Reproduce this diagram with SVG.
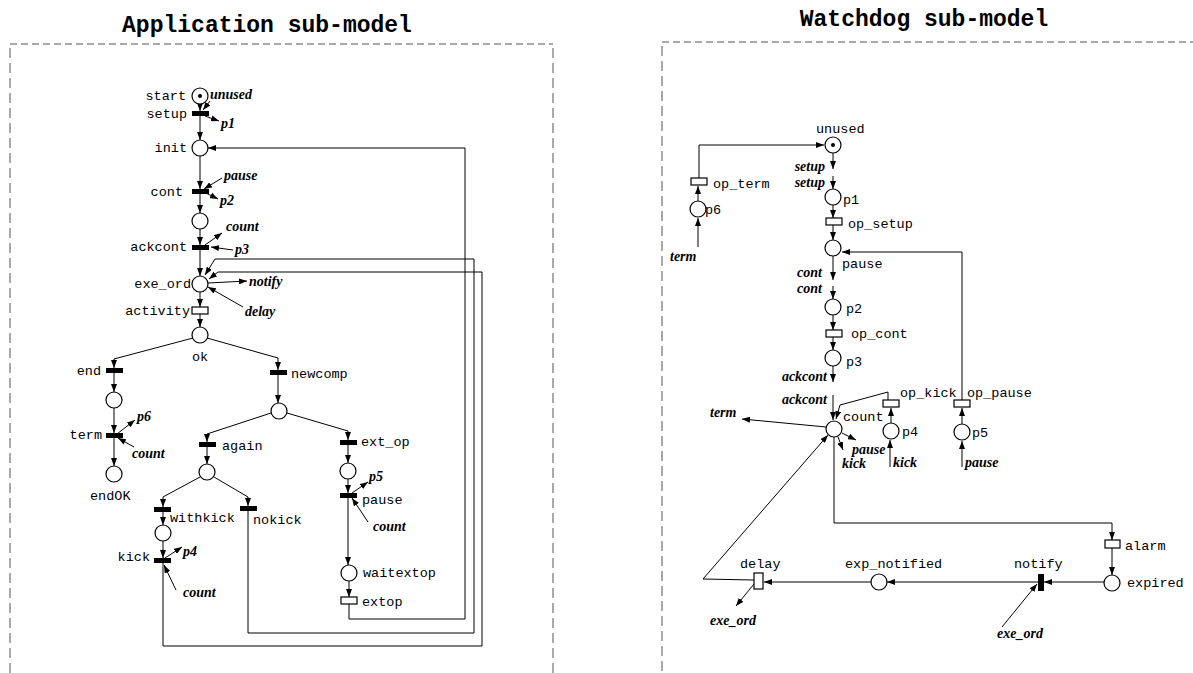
<svg xmlns="http://www.w3.org/2000/svg" width="1193" height="673" viewBox="0 0 1193 673">
<style>
.pl{fill:#fff;stroke:#000;stroke-width:1.2}
.tk{fill:#000}
.it{fill:#000}
.tt{fill:#fff;stroke:#000;stroke-width:1.2}
.e{fill:none;stroke:#000;stroke-width:1}
.ea{fill:none;stroke:#000;stroke-width:1;marker-end:url(#ah)}
.lb{font-family:"Liberation Mono",monospace;font-size:13.5px;fill:#000}
.ar{font-family:"Liberation Serif",serif;font-size:14px;font-weight:bold;font-style:italic;fill:#000}
.ti{font-family:"Liberation Mono",monospace;font-size:23px;font-weight:bold;fill:#000}
.dh{fill:none;stroke:#555;stroke-width:1;stroke-dasharray:7 4}
.dv{fill:none;stroke:#555;stroke-width:1;stroke-dasharray:10 5}
</style>
<defs>
<marker id="ah" markerWidth="8" markerHeight="6" refX="8" refY="3" orient="auto" markerUnits="userSpaceOnUse"><path d="M0,0 L8,3 L0,6 z" fill="#000"/></marker>
</defs>
<g id="frames">
<text class="ti" x="267" y="32" text-anchor="middle">Application sub-model</text>
<text class="ti" x="924" y="26" text-anchor="middle">Watchdog sub-model</text>
<path class="dh" d="M10,44 H553"/>
<path class="dv" d="M10,48 V673 M553,48 V673"/>
<path class="dh" d="M662,42 H1193"/>
<path class="dv" d="M662,46 V673"/>
</g>
<g id="connectors">
<!-- left net -->
<path class="ea" d="M200,104 V111"/>
<path class="ea" d="M210,101 L203,110"/>
<path class="ea" d="M205,116 L219,121"/>
<path class="ea" d="M200,116 V140"/>
<path class="ea" d="M349,604 V619 H465 V148 H208"/>
<path class="ea" d="M200,156 V189"/>
<path class="ea" d="M222,178 L204,189"/>
<path class="ea" d="M206,193 L218,199"/>
<path class="ea" d="M200,194 V213"/>
<path class="ea" d="M200,229 V245"/>
<path class="ea" d="M205,245 L222,233"/>
<path class="ea" d="M233,250 L211,247"/>
<path class="ea" d="M200,250 V276"/>
<path class="ea" d="M208,283 L247,281"/>
<path class="ea" d="M243,307 L208,287"/>
<path class="ea" d="M248,511 V633 H474 V259 H215 L205,275"/>
<path class="ea" d="M163,563 V646 H482 V272 H218 L209,279"/>
<path class="ea" d="M200,292 V307"/>
<path class="ea" d="M200,314 V327"/>
<path class="ea" d="M193,338 L114,359 V368"/>
<path class="ea" d="M114,373 V392"/>
<path class="ea" d="M114,408 V433"/>
<path class="ea" d="M117,434 L135,420"/>
<path class="ea" d="M134,447 L118,438"/>
<path class="ea" d="M114,438 V466"/>
<path class="ea" d="M207,338 L278,358 V370"/>
<path class="ea" d="M278,375 V403"/>
<path class="ea" d="M271,413 L207,434 V442"/>
<path class="ea" d="M287,413 L348,431 V440"/>
<path class="ea" d="M348,445 V463"/>
<path class="ea" d="M352,493 L368,482"/>
<path class="ea" d="M348,479 V493"/>
<path class="ea" d="M368,522 L352,498"/>
<path class="ea" d="M348,498 V565"/>
<path class="ea" d="M349,581 V597"/>
<path class="ea" d="M207,447 V464"/>
<path class="ea" d="M200,477 L163,497 V507"/>
<path class="ea" d="M214,477 L248,497 V506"/>
<path class="ea" d="M163,512 V525"/>
<path class="ea" d="M163,541 V558"/>
<path class="ea" d="M165,558 L182,547"/>
<path class="ea" d="M176,590 L164,565"/>
<!-- right net -->
<path class="ea" d="M699,178 V145 H824"/>
<path class="ea" d="M698,201 V186"/>
<path class="ea" d="M698,247 V218"/>
<path class="ea" d="M833,153 V169"/>
<path class="ea" d="M833,176 V189"/>
<path class="ea" d="M833,205 V218"/>
<path class="ea" d="M833,225 V240"/>
<path class="ea" d="M962,400 V252 H842"/>
<path class="ea" d="M833,256 V280"/>
<path class="ea" d="M833,286 V299"/>
<path class="ea" d="M833,315 V330"/>
<path class="ea" d="M833,337 V350"/>
<path class="ea" d="M833,366 V382"/>
<path class="ea" d="M833,395 V420"/>
<path class="ea" d="M888,400 V392 L840,405 L836,419"/>
<path class="ea" d="M891,423 V408"/>
<path class="ea" d="M890,467 V440"/>
<path class="ea" d="M962,424 V408"/>
<path class="ea" d="M962,467 V441"/>
<path class="ea" d="M826,427 L742,419"/>
<path class="ea" d="M842,433 L856,440"/>
<path class="ea" d="M838,437 L843,450"/>
<path class="ea" d="M834,437 V523 H1112 V540"/>
<path class="ea" d="M1112,548 V575"/>
<path class="ea" d="M1104,582 H1044"/>
<path class="ea" d="M1002,627 L1037,584"/>
<path class="ea" d="M1038,582 H887"/>
<path class="ea" d="M871,582 H764"/>
<path class="ea" d="M754,580 L703,579 L828,435"/>
<path class="ea" d="M754,584 L736,606"/>
</g>
<g id="start"><circle class="pl" cx="200" cy="96" r="8"/><circle class="tk" cx="200" cy="96" r="2"/><text class="lb" x="186" y="100" text-anchor="end">start</text><text class="ar" x="210" y="99">unused</text></g>
<g id="setup"><rect class="it" x="192" y="111" width="17" height="5"/><text class="lb" x="187" y="118" text-anchor="end">setup</text><text class="ar" x="221" y="128">p1</text></g>
<g id="init"><circle class="pl" cx="200" cy="148" r="8"/><text class="lb" x="187" y="152" text-anchor="end">init</text></g>
<g id="cont"><rect class="it" x="192" y="189" width="17" height="5"/><text class="lb" x="183" y="196" text-anchor="end">cont</text><text class="ar" x="224" y="180">pause</text><text class="ar" x="220" y="205">p2</text></g>
<g id="wcont"><circle class="pl" cx="200" cy="221" r="8"/></g>
<g id="ackcont"><rect class="it" x="192" y="245" width="17" height="5"/><text class="lb" x="187" y="251" text-anchor="end">ackcont</text><text class="ar" x="226" y="231">count</text><text class="ar" x="235" y="254">p3</text></g>
<g id="exe_ord"><circle class="pl" cx="200" cy="284" r="8"/><text class="lb" x="191" y="288" text-anchor="end">exe_ord</text><text class="ar" x="249" y="286">notify</text><text class="ar" x="245" y="316">delay</text></g>
<g id="activity"><rect class="tt" x="192" y="307" width="16" height="7"/><text class="lb" x="190" y="315" text-anchor="end">activity</text></g>
<g id="ok"><circle class="pl" cx="200" cy="335" r="8"/><text class="lb" x="200" y="361" text-anchor="middle">ok</text></g>
<g id="end"><rect class="it" x="106" y="368" width="17" height="5"/><text class="lb" x="101" y="375" text-anchor="end">end</text></g>
<g id="wend"><circle class="pl" cx="114" cy="400" r="8"/></g>
<g id="term"><rect class="it" x="106" y="433" width="17" height="5"/><text class="lb" x="102" y="439" text-anchor="end">term</text><text class="ar" x="137" y="421">p6</text><text class="ar" x="132" y="458">count</text></g>
<g id="endOK"><circle class="pl" cx="114" cy="474" r="8"/><text class="lb" x="90" y="500">endOK</text></g>
<g id="newcomp"><rect class="it" x="270" y="370" width="17" height="5"/><text class="lb" x="291" y="378">newcomp</text></g>
<g id="wnew"><circle class="pl" cx="279" cy="411" r="8"/></g>
<g id="again"><rect class="it" x="199" y="442" width="17" height="5"/><text class="lb" x="222" y="450">again</text></g>
<g id="ext_op"><rect class="it" x="340" y="440" width="17" height="5"/><text class="lb" x="361" y="446">ext_op</text></g>
<g id="wext"><circle class="pl" cx="348" cy="471" r="8"/></g>
<g id="pause"><rect class="it" x="340" y="493" width="17" height="5"/><text class="lb" x="362" y="504">pause</text><text class="ar" x="369" y="481">p5</text><text class="ar" x="373" y="531">count</text></g>
<g id="waitextop"><circle class="pl" cx="349" cy="573" r="8"/><text class="lb" x="363" y="577">waitextop</text></g>
<g id="extop"><rect class="tt" x="341" y="597" width="16" height="7"/><text class="lb" x="362" y="606">extop</text></g>
<g id="wagain"><circle class="pl" cx="207" cy="472" r="8"/></g>
<g id="withkick"><rect class="it" x="154" y="507" width="17" height="5"/><text class="lb" x="170" y="522">withkick</text></g>
<g id="nokick"><rect class="it" x="240" y="506" width="17" height="5"/><text class="lb" x="253" y="524">nokick</text></g>
<g id="wkick"><circle class="pl" cx="163" cy="533" r="8"/></g>
<g id="kick"><rect class="it" x="154" y="558" width="17" height="5"/><text class="lb" x="150" y="561" text-anchor="end">kick</text><text class="ar" x="183" y="556">p4</text><text class="ar" x="183" y="597">count</text></g>

<g id="w_unused"><circle class="pl" cx="833" cy="145" r="8"/><circle class="tk" cx="833" cy="145" r="2"/><text class="lb" x="816" y="133">unused</text><text class="ar" x="825" y="171" text-anchor="end">setup</text><text class="ar" x="825" y="187" text-anchor="end">setup</text></g>
<g id="op_term"><rect class="tt" x="691" y="178" width="16" height="7"/><text class="lb" x="713" y="188">op_term</text></g>
<g id="p6"><circle class="pl" cx="698" cy="209" r="8"/><text class="lb" x="705" y="214">p6</text><text class="ar" x="670" y="261">term</text></g>
<g id="p1"><circle class="pl" cx="833" cy="197" r="8"/><text class="lb" x="843" y="204">p1</text></g>
<g id="op_setup"><rect class="tt" x="826" y="218" width="16" height="7"/><text class="lb" x="848" y="228">op_setup</text></g>
<g id="w_pause"><circle class="pl" cx="833" cy="248" r="8"/><text class="lb" x="842" y="268">pause</text><text class="ar" x="822" y="277" text-anchor="end">cont</text><text class="ar" x="822" y="293" text-anchor="end">cont</text></g>
<g id="p2"><circle class="pl" cx="833" cy="307" r="8"/><text class="lb" x="846" y="313">p2</text></g>
<g id="op_cont"><rect class="tt" x="826" y="330" width="16" height="7"/><text class="lb" x="851" y="338">op_cont</text></g>
<g id="p3"><circle class="pl" cx="833" cy="358" r="8"/><text class="lb" x="846" y="366">p3</text><text class="ar" x="827" y="381" text-anchor="end">ackcont</text><text class="ar" x="827" y="404" text-anchor="end">ackcont</text></g>
<g id="count"><circle class="pl" cx="834" cy="429" r="8"/><text class="lb" x="843" y="421">count</text><text class="ar" x="710" y="417">term</text><text class="ar" x="852" y="454">pause</text><text class="ar" x="842" y="468">kick</text></g>
<g id="op_kick"><rect class="tt" x="883" y="400" width="16" height="7"/><text class="lb" x="900" y="397">op_kick</text></g>
<g id="p4"><circle class="pl" cx="891" cy="431" r="8"/><text class="lb" x="902" y="436">p4</text><text class="ar" x="893" y="467">kick</text></g>
<g id="op_pause"><rect class="tt" x="954" y="400" width="16" height="7"/><text class="lb" x="967" y="397">op_pause</text></g>
<g id="p5"><circle class="pl" cx="962" cy="432" r="8"/><text class="lb" x="972" y="437">p5</text><text class="ar" x="965" y="467">pause</text></g>
<g id="alarm"><rect class="tt" x="1105" y="540" width="15" height="8"/><text class="lb" x="1125" y="550">alarm</text></g>
<g id="expired"><circle class="pl" cx="1112" cy="583" r="8"/><text class="lb" x="1127" y="587">expired</text></g>
<g id="notify"><rect class="it" x="1038" y="574" width="6" height="17"/><text class="lb" x="1014" y="568">notify</text><text class="ar" x="997" y="638">exe_ord</text></g>
<g id="exp_notified"><circle class="pl" cx="879" cy="582" r="8"/><text class="lb" x="845" y="568">exp_notified</text></g>
<g id="delay"><rect class="tt" x="754" y="573" width="9" height="16"/><text class="lb" x="740" y="568">delay</text><text class="ar" x="710" y="625">exe_ord</text></g>
</svg>
